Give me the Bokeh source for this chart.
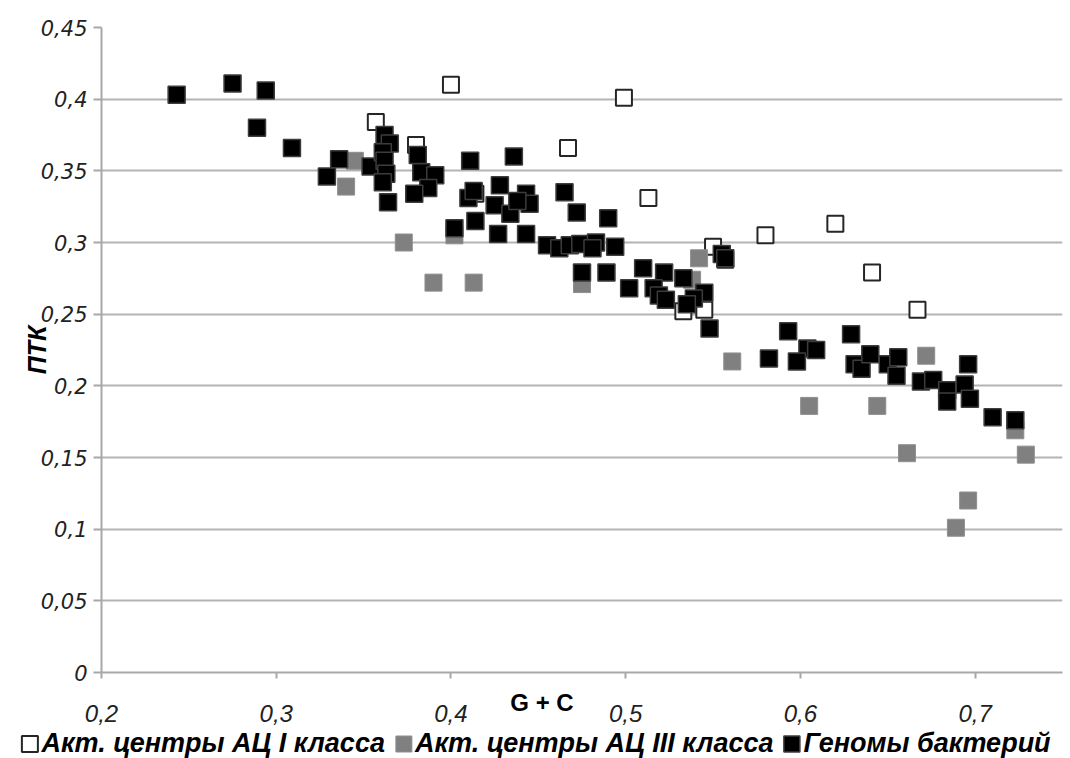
from bokeh.plotting import figure
from bokeh.models import FixedTicker, Legend, LegendItem, Range1d
from bokeh.layouts import column
from bokeh.embed import file_html
from bokeh.resources import INLINE

# ---- data ----
series_names = ["Акт. центры АЦ I класса", "Акт. центры АЦ III класса", "Геномы бактерий"]

open_x = [0.357, 0.400, 0.499, 0.467, 0.380, 0.414, 0.513, 0.580, 0.620, 0.550,
          0.557, 0.533, 0.545, 0.641, 0.667]
open_y = [0.384, 0.410, 0.401, 0.366, 0.368, 0.334, 0.331, 0.305, 0.313, 0.297,
          0.288, 0.252, 0.253, 0.279, 0.253]

grey_x = [0.345, 0.340, 0.373, 0.390, 0.413, 0.402, 0.475, 0.542, 0.538, 0.561,
          0.605, 0.644, 0.672, 0.661, 0.729, 0.723, 0.696, 0.689]
grey_y = [0.357, 0.339, 0.300, 0.272, 0.272, 0.305, 0.271, 0.289, 0.274, 0.217,
          0.186, 0.186, 0.221, 0.153, 0.152, 0.169, 0.120, 0.101]

black_x = [0.243, 0.275, 0.294, 0.289, 0.309, 0.336, 0.329, 0.354, 0.362, 0.365,
           0.361, 0.362, 0.363, 0.361, 0.364, 0.381, 0.383, 0.391, 0.387, 0.379,
           0.411, 0.410, 0.413, 0.414, 0.402, 0.436, 0.428, 0.425, 0.443, 0.445,
           0.434, 0.438, 0.427, 0.443, 0.465, 0.472, 0.490, 0.455, 0.462, 0.468,
           0.474, 0.483, 0.481, 0.494, 0.475, 0.489, 0.510, 0.502, 0.522, 0.533,
           0.516, 0.519, 0.523, 0.545, 0.539, 0.535, 0.548, 0.555, 0.557, 0.593,
           0.582, 0.604, 0.609, 0.598, 0.629, 0.631, 0.635, 0.640, 0.650, 0.656,
           0.655, 0.669, 0.676, 0.684, 0.684, 0.694, 0.696, 0.697, 0.710, 0.723]
black_y = [0.403, 0.411, 0.406, 0.380, 0.366, 0.358, 0.346, 0.353, 0.375, 0.369,
           0.363, 0.357, 0.348, 0.342, 0.328, 0.361, 0.349, 0.347, 0.338, 0.334,
           0.357, 0.331, 0.336, 0.315, 0.310, 0.360, 0.340, 0.326, 0.334, 0.327,
           0.320, 0.329, 0.306, 0.306, 0.335, 0.321, 0.317, 0.298, 0.296, 0.298,
           0.299, 0.300, 0.296, 0.297, 0.279, 0.279, 0.282, 0.268, 0.279, 0.275,
           0.268, 0.263, 0.260, 0.265, 0.261, 0.257, 0.240, 0.292, 0.289, 0.238,
           0.219, 0.226, 0.225, 0.217, 0.236, 0.215, 0.212, 0.222, 0.215, 0.220,
           0.207, 0.203, 0.204, 0.197, 0.189, 0.201, 0.215, 0.191, 0.178, 0.176]

x_ticks = [0.2, 0.3, 0.4, 0.5, 0.6, 0.7]
x_tick_labels = ["0,2", "0,3", "0,4", "0,5", "0,6", "0,7"]
y_ticks = [0.0, 0.05, 0.1, 0.15, 0.2, 0.25, 0.3, 0.35, 0.4, 0.45]
y_tick_labels = ["0", "0,05", "0,1", "0,15", "0,2", "0,25", "0,3", "0,35", "0,4", "0,45"]

x_title = "G + C"
y_title = "ПТК"

FONT = "Liberation Sans"

OPEN_FILL, OPEN_LINE = "white", "#262626"
GREY_FILL, GREY_LINE = "#808080", "#8f8f8f"
BLACK_FILL, BLACK_LINE = "#000000", "#3c3c3c"

# ---- main chart ----
p = figure(width=1070, height=728, x_range=(0.2, 0.75), y_range=(0, 0.45),
           output_backend="svg", toolbar_location=None,
           min_border_left=101, min_border_right=8, min_border_top=27, min_border_bottom=56)
p.outline_line_color = None
p.background_fill_color = "white"
p.border_fill_color = "white"
if "frame_align" in p.properties():
    p.frame_align = False

p.xgrid.visible = False
p.ygrid.ticker = FixedTicker(ticks=y_ticks)
p.ygrid.grid_line_color = "#b4b4b4"
p.ygrid.grid_line_width = 2

axis_col = "#a8a8a8"
xa = p.xaxis[0]
xa.ticker = FixedTicker(ticks=x_ticks)
xa.major_label_overrides = {t: l for t, l in zip(x_ticks, x_tick_labels)}
xa.minor_tick_line_color = None
xa.major_tick_out = 6
xa.major_tick_in = 0
xa.axis_line_color = axis_col
xa.axis_line_width = 2
xa.major_tick_line_color = axis_col
xa.major_tick_line_width = 2
xa.major_label_text_font = FONT
xa.major_label_text_font_style = "italic"
xa.major_label_text_font_size = "24px"
xa.major_label_text_color = "#222222"
xa.major_label_standoff = 26
# the title sits left of the frame centre in the reference: pad it on the right
xa.axis_label = x_title + "\u00a0" * 12
xa.axis_label_text_font = FONT
xa.axis_label_text_font_style = "bold"
xa.axis_label_text_font_size = "24px"
xa.axis_label_text_color = "#000000"
xa.axis_label_standoff = -36

ya = p.yaxis[0]
ya.ticker = FixedTicker(ticks=y_ticks)
ya.major_label_overrides = {t: l for t, l in zip(y_ticks, y_tick_labels)}
ya.minor_tick_line_color = None
ya.major_tick_out = 8
ya.major_tick_in = 0
ya.axis_line_color = axis_col
ya.axis_line_width = 2
ya.major_tick_line_color = axis_col
ya.major_tick_line_width = 2
ya.major_label_text_font = "DejaVu Sans"
ya.major_label_text_font_style = "italic"
ya.major_label_text_font_size = "21px"
ya.major_label_text_color = "#222222"
ya.major_label_standoff = 6
ya.axis_label = y_title
ya.axis_label_text_font = FONT
ya.axis_label_text_font_style = "bold italic"
ya.axis_label_text_font_size = "25px"
ya.axis_label_text_color = "#000000"
ya.axis_label_standoff = -13

p.scatter(x=open_x, y=open_y, marker="square", size=16,
          fill_color=OPEN_FILL, line_color=OPEN_LINE, line_width=2)
p.scatter(x=grey_x, y=grey_y, marker="square", size=17,
          fill_color=GREY_FILL, line_color=GREY_LINE, line_width=1)
p.scatter(x=black_x, y=black_y, marker="square", size=17,
          fill_color=BLACK_FILL, line_color=BLACK_LINE, line_width=1.5)

# ---- legend strip (same series; its ranges keep the points out of view) ----
q = figure(width=1070, height=30, x_range=Range1d(-2, -1), y_range=Range1d(-2, -1),
           x_axis_type=None, y_axis_type=None, output_backend="svg", toolbar_location=None,
           min_border_left=0, min_border_right=0, min_border_top=0, min_border_bottom=0)
q.outline_line_color = None
q.grid.visible = False
q.background_fill_color = "white"
q.border_fill_color = "white"
if "frame_align" in q.properties():
    q.frame_align = False

l_open = q.rect(x=open_x, y=open_y, width=0.01, height=0.01,
                fill_color=OPEN_FILL, line_color=OPEN_LINE, line_width=2)
l_grey = q.rect(x=grey_x, y=grey_y, width=0.01, height=0.01,
                fill_color=GREY_FILL, line_color=GREY_LINE, line_width=1)
l_black = q.rect(x=black_x, y=black_y, width=0.01, height=0.01,
                 fill_color=BLACK_FILL, line_color=BLACK_LINE, line_width=1.5)

legend = Legend(items=[LegendItem(label=series_names[0], renderers=[l_open]),
                       LegendItem(label=series_names[1], renderers=[l_grey]),
                       LegendItem(label=series_names[2], renderers=[l_black])],
                orientation="horizontal", location="center",
                glyph_width=20, glyph_height=20, label_standoff=2, spacing=8,
                padding=0, margin=0, border_line_color=None, background_fill_alpha=0,
                label_text_font=FONT, label_text_font_style="bold italic",
                label_text_font_size="27px", label_text_color="#000000")
q.add_layout(legend)

layout = column(p, q, spacing=0)
open("out.html", "w").write(file_html(layout, INLINE))
